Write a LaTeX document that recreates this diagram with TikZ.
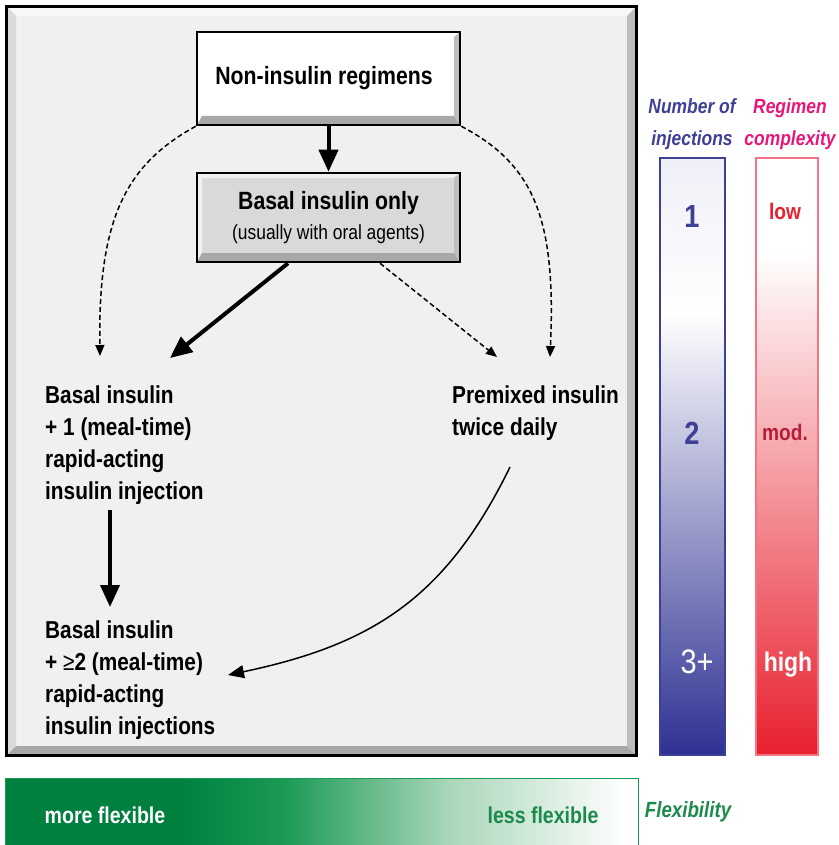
\documentclass[tikz,border=0pt]{standalone}
\usepackage{fontspec}
\setmainfont{Liberation Sans}[FakeStretch=0.85]
\usetikzlibrary{arrows.meta}

\definecolor{panelgray}{HTML}{EFF0F1}
\definecolor{bevdark}{HTML}{A8A8A8}
\definecolor{bevmid}{HTML}{BDBDBD}
\definecolor{bevlight}{HTML}{DADADA}
\definecolor{boxgray}{HTML}{D9D9D9}
\definecolor{injblue}{HTML}{3E3F96}
\definecolor{injdark}{HTML}{2E3192}
\definecolor{injpale}{HTML}{EFEFF8}
\definecolor{cpxred}{HTML}{E8202E}
\definecolor{cpxdark}{HTML}{B51E3B}
\definecolor{cpxpink}{HTML}{E5187A}
\definecolor{cpxedge}{HTML}{F27583}
\definecolor{flexgreen}{HTML}{00803F}
\definecolor{flexmid}{HTML}{1A9A55}
\definecolor{flexpale}{HTML}{A9D6B9}
\definecolor{flextext}{HTML}{1B8A4B}

\pgfdeclareverticalshading{injshade}{100bp}{color(0bp)=(injdark); color(25bp)=(injdark); color(62bp)=(white); color(75bp)=(injpale); color(100bp)=(injpale)}
\pgfdeclareverticalshading{cpxshade}{100bp}{color(0bp)=(cpxred); color(25bp)=(cpxred); color(67bp)=(white); color(75bp)=(white); color(100bp)=(white)}
\pgfdeclarehorizontalshading{flexshade}{100bp}{color(0bp)=(flexgreen); color(25bp)=(flexgreen); color(39bp)=(flexgreen); color(47bp)=(flexmid); color(60bp)=(flexpale); color(74bp)=(white); color(100bp)=(white)}

\begin{document}
\begin{tikzpicture}[x=1pt,y=-1pt,
    regbox/.style={draw,line width=2.5pt,fill=#1,minimum width=263pt,inner sep=0pt,
      font=\bfseries\fontsize{25}{29}\selectfont,align=center,
      path picture={
        \fill[#1!40!white] (path picture bounding box.north west) -- (path picture bounding box.north east)
          -- ++(-6,5) -- ([shift={(5,5)}]path picture bounding box.north west) -- cycle;
        \fill[#1!40!white] (path picture bounding box.north west) -- (path picture bounding box.south west)
          -- ++(5,-9) -- ([shift={(5,5)}]path picture bounding box.north west) -- cycle;
        \fill[bevdark] (path picture bounding box.south west) -- (path picture bounding box.south east)
          -- ++(-6,-9) -- ([shift={(5,-9)}]path picture bounding box.south west) -- cycle;
        \fill[bevmid] (path picture bounding box.south east) -- (path picture bounding box.north east)
          -- ++(-6,5) -- ([shift={(-6,-9)}]path picture bounding box.south east) -- cycle;
      }},
    stage/.style={anchor=north west,align=left,inner sep=0pt,font=\bfseries\fontsize{24.5}{32}\selectfont},
    bigarrow/.style={line width=4pt,-{Triangle[length=22pt,width=19pt]}},
    dasharrow/.style={line width=1.5pt,dash pattern=on 5pt off 3pt,-{Triangle[length=11pt,width=9pt]}},
    barlabel/.style={font=\bfseries\itshape\fontsize{20.5}{32}\selectfont,align=center,inner sep=0pt},
    barvalue/.style={font=\bfseries\fontsize{32}{36}\selectfont,inner sep=0pt},
    barword/.style={font=\bfseries\fontsize{22.5}{28}\selectfont,inner sep=0pt}]
  \useasboundingbox (0,0) rectangle (838,845);

  % left panel
  \fill[panelgray] (8,8) rectangle (635,754);
  \fill[white!97!black] (8,8) -- (635,8) -- (627,16) -- (16,16) -- cycle;
  \fill[bevlight] (8,8) -- (16,16) -- (16,746) -- (8,754) -- cycle;
  \fill[bevdark] (8,754) -- (16,746) -- (627,746) -- (635,754) -- cycle;
  \fill[bevmid] (635,8) -- (635,754) -- (627,746) -- (627,16) -- cycle;
  \draw[line width=3pt] (6.5,6.5) rectangle (636.5,755.5);

  \node[regbox=white,minimum height=93pt] (noninsulin) at (328.5,78.5) {\raisebox{2pt}{Non-insulin regimens}\hspace*{9pt}};
  \node[regbox=boxgray,minimum height=89pt] (basalonly) at (328.5,217.5)
    {\raisebox{1.5pt}{Basal insulin only}\\{\mdseries\fontsize{20.5}{26}\selectfont(usually with oral agents)}};

  \node[stage] (basalone) at (45,385.5) {Basal insulin\\+ 1 (meal-time)\\rapid-acting\\insulin injection};
  \node[stage] (premixed) at (452,385.5) {Premixed insulin\\twice daily};
  \node[stage] (basalmany) at (45,620.5) {Basal insulin\\+ {\mdseries≥}2 (meal-time)\\rapid-acting\\insulin injections};

  \draw[bigarrow] (noninsulin.south) -- (basalonly.north);
  \draw[bigarrow] ([xshift=-40.5pt]basalonly.south) -- ([shift={(125,-27.5)}]basalone.north west);
  \draw[dasharrow] ([xshift=51.5pt]basalonly.south) -- ([shift={(45,-28.5)}]premixed.north west);
  \draw[dasharrow] (noninsulin.south west) .. controls (125,165) and (98,220) .. ([shift={(55,-29.5)}]basalone.north west);
  \draw[dasharrow] (noninsulin.south east) .. controls (535,165) and (556,220) .. ([shift={(98,-28.5)}]premixed.north west);
  \draw[bigarrow] ([shift={(65,124.5)}]basalone.north west) -- ([shift={(65,-13.5)}]basalmany.north west);
  \draw[line width=1.5pt,-{Triangle[length=16pt,width=13pt]}] ([shift={(58,81.5)}]premixed.north west)
    .. controls (445,600) and (370,645) .. ([shift={(183,54.5)}]basalmany.north west);

  % scales on the right
  \node[barlabel,text=injblue] (injtitle) at (692,124) {Number of\\injections};
  \node[barlabel,text=cpxpink] (cpxtitle) at (790,124) {Regimen\\complexity};
  \node[draw=injblue,line width=1.5pt,shading=injshade,minimum width=65pt,minimum height=597pt] (injbar) at (692.5,456.5) {};
  \node[draw=cpxedge,line width=1.5pt,shading=cpxshade,minimum width=62pt,minimum height=597pt] (cpxbar) at (787,456.5) {};
  \node[barvalue,text=injblue] (injone) at (692,216) {1};
  \node[barvalue,text=injblue] (injtwo) at (692,433) {2};
  \node[barvalue,text=white,font=\mdseries\fontsize{34}{38}\selectfont] (injthree) at (697,662) {3+};
  \node[barword,text=cpxred] (cpxlow) at (785,211) {low};
  \node[barword,text=cpxdark] (cpxmod) at (785,432) {mod.};
  \node[barword,text=white,font=\bfseries\fontsize{27}{30}\selectfont] (cpxhigh) at (788,665) {high};

  % flexibility band
  \node[draw=flexmid,line width=1pt,shading=flexshade,minimum width=633pt,minimum height=70pt] (flexbar) at (321.5,813) {};
  \node[font=\bfseries\fontsize{23}{26}\selectfont,text=white] (moreflex) at (105,815) {more flexible};
  \node[font=\bfseries\fontsize{23}{26}\selectfont,text=flextext] (lessflex) at (543,815) {less flexible};
  \node[barlabel,text=flextext,font=\bfseries\itshape\fontsize{22}{26}\selectfont] (flextitle) at (688,812) {Flexibility};
\end{tikzpicture}
\end{document}
